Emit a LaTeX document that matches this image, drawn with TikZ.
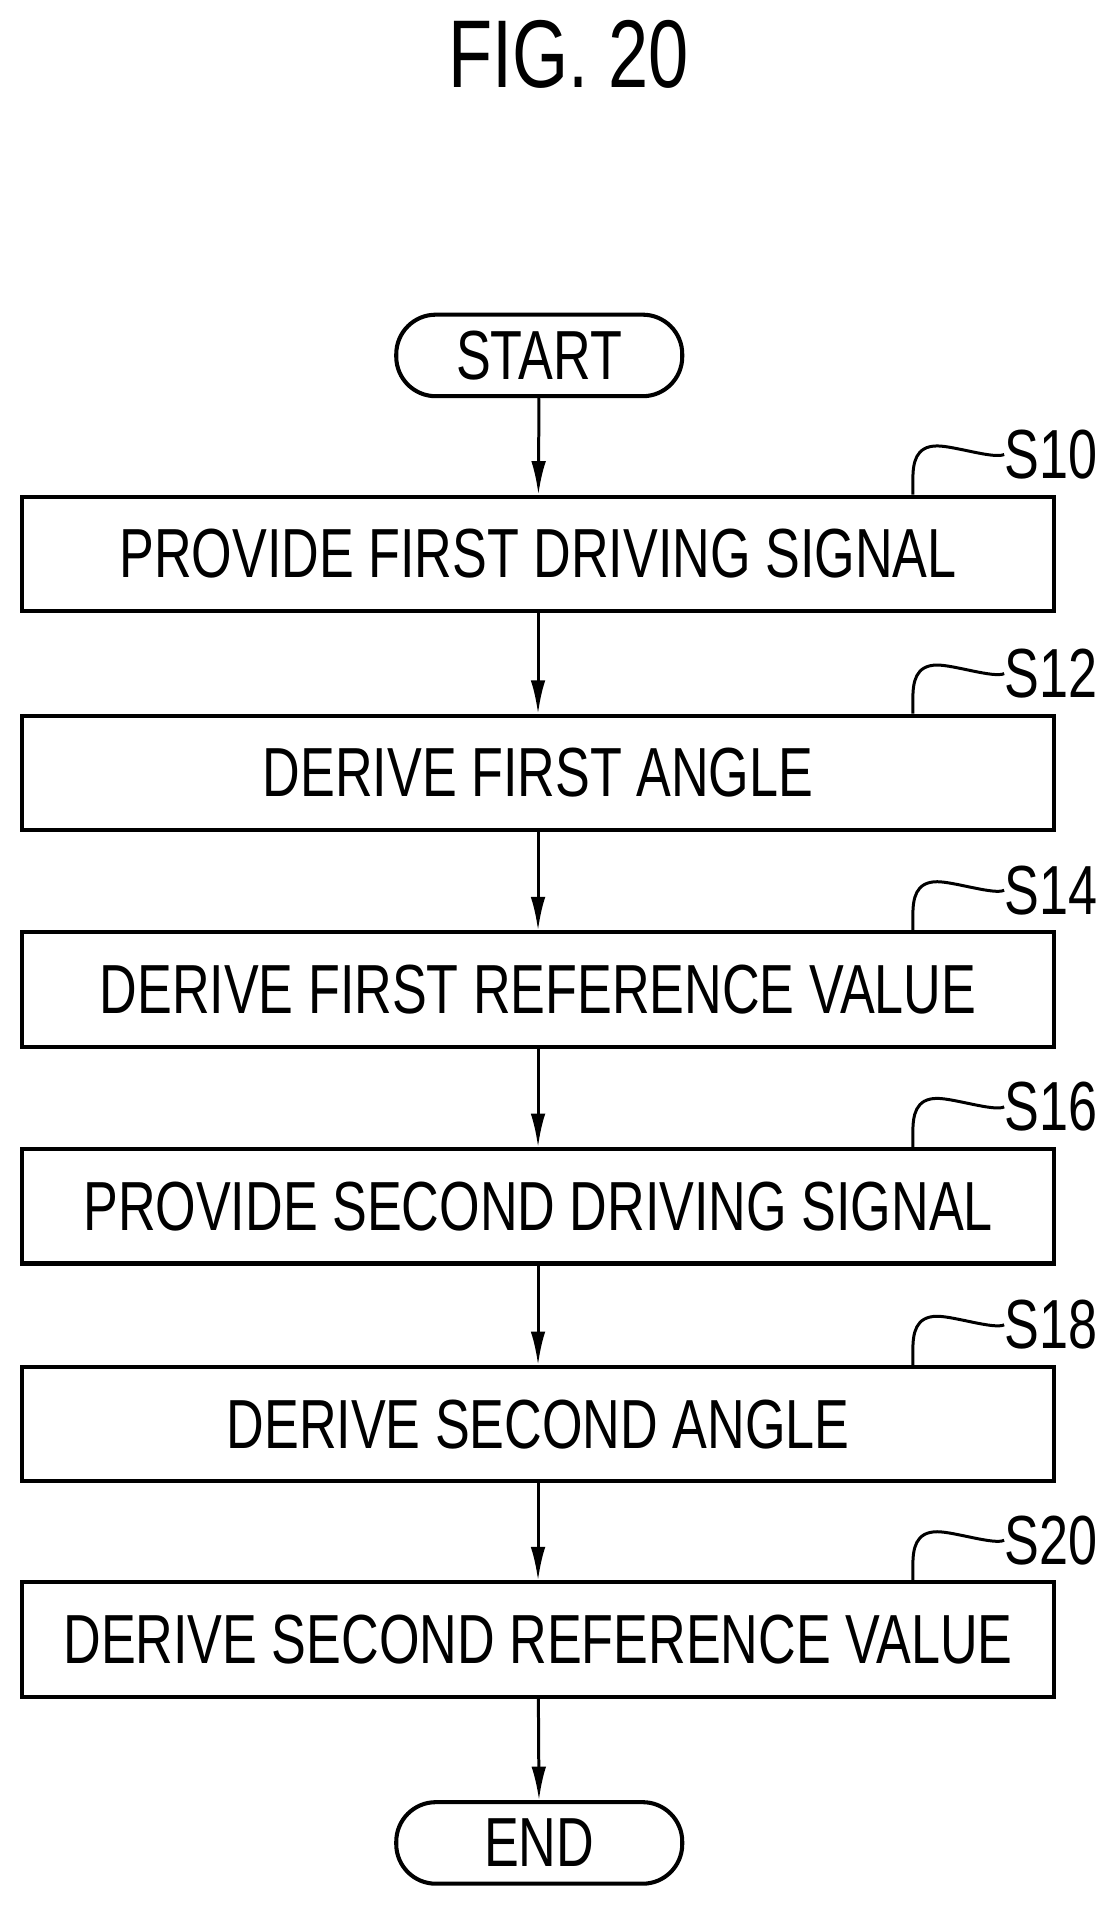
\documentclass[tikz,border=0pt]{standalone}
\usepackage{fontspec}
\setmainfont[FakeStretch=0.75]{Liberation Sans}
\usetikzlibrary{positioning,arrows.meta}
\begin{document}
\begin{tikzpicture}[x=0.02cm,y=-0.02cm,
  every node/.style={font=\fontsize{32.5}{34}\selectfont},
  procbox/.style={draw,line width=1.9pt,minimum width=16.96cm,minimum height=1.88cm,inner sep=0pt},
  term/.style={draw,line width=1.9pt,rounded corners=0.65cm,minimum width=4.7cm,minimum height=1.34cm,inner sep=0pt},
  flow/.style={line width=1.4pt,-{Latex[length=0.55cm,width=0.24cm]}},
  tag/.style={line width=1.4pt}
]
  \useasboundingbox (0,0) rectangle (915,1565);

  \node (fig) at (467,45) {\fontsize{45}{48}\selectfont FIG. 20};

  \node (start) [term] at (443,292) {START};
  \node (s10) [procbox] at (442,455) {PROVIDE FIRST DRIVING SIGNAL};
  \node (s12) [procbox] at (442,635) {DERIVE FIRST ANGLE};
  \node (s14) [procbox] at (442,813) {DERIVE FIRST REFERENCE VALUE};
  \node (s16) [procbox] at (442,991) {PROVIDE SECOND DRIVING SIGNAL};
  \node (s18) [procbox] at (442,1170) {DERIVE SECOND ANGLE};
  \node (s20) [procbox] at (442,1347) {DERIVE SECOND REFERENCE VALUE};
  \node (end) [term] at (443,1514) {END};

  \draw [flow] (start) -- (s10);
  \draw [flow] (s10) -- (s12);
  \draw [flow] (s12) -- (s14);
  \draw [flow] (s14) -- (s16);
  \draw [flow] (s16) -- (s18);
  \draw [flow] (s18) -- (s20);
  \draw [flow] (s20) -- (end);

  % step labels
  \foreach \s/\t in {s10/S10,s12/S12,s14/S14,s16/S16,s18/S18,s20/S20}{
    \coordinate (\s foot) at ([xshift=6.16cm]\s.north);
    \node (\s lab) [anchor=west,inner sep=0pt] at ([xshift=1.5cm,yshift=0.66cm]\s foot) {\t};
    \draw [tag] (\s foot) -- ++(0,-12) .. controls +(0,-14) and +(-18,0) .. ++(20,-28)
      .. controls +(14,0) and +(-8,4) .. (\s lab.west);
  }
\end{tikzpicture}
\end{document}
